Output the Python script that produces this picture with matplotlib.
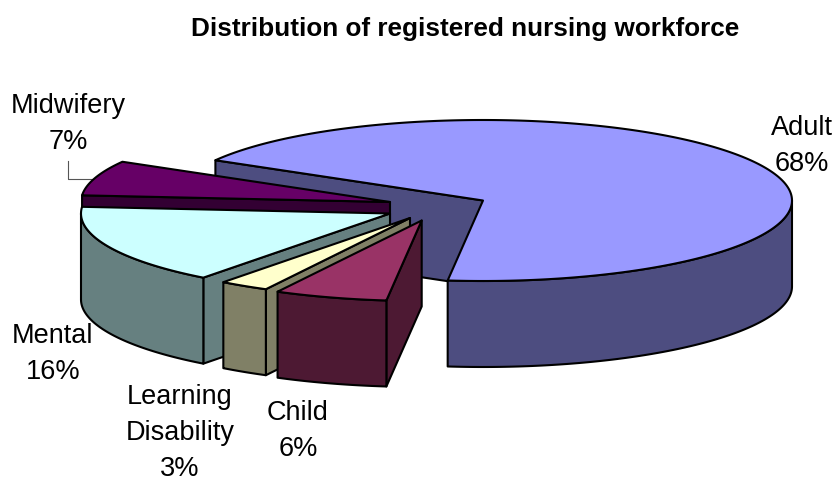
import numpy as np
import matplotlib
matplotlib.use("Agg")
import matplotlib.pyplot as plt
from matplotlib.patches import Polygon

plt.rcParams['font.family'] = ['Liberation Sans', 'DejaVu Sans']

# ---- data ----
categories = ["Adult", "Child", "Learning\nDisability", "Mental", "Midwifery"]
shares = [68.49, 5.9, 2.6, 16.0, 7.01]
title = "Distribution of registered nursing workforce"

# ---- styles / layout (pixel-based canvas) ----
top_colors = ["#9999FF", "#993366", "#FFFFCC", "#CCFFFF", "#660066"]
side_colors = ["#4D4D80", "#4D1933", "#808066", "#668080", "#330033"]
apex = [(483, 201.5), (421.7, 221.5), (410, 219), (390, 214.5), (390, 203)]
label_pos = [(802, 146), (298, 431), (180, 433), (53, 354), (68, 124)]
draw_order = [0, 4, 3, 2, 1]
RX, RY, DEPTH = 309, 80.5, 86
START = 150.0
LW = 1.5

fig = plt.figure(figsize=(8.35, 4.81), dpi=100, facecolor="white")
ax = fig.add_axes([0, 0, 1, 1])
ax.set_xlim(0, 835)
ax.set_ylim(481, 0)
ax.axis("off")

total = sum(shares)
edges = START - np.cumsum([0] + shares) * 360.0 / total


def rim(center, a):
    a = np.radians(a)
    return np.column_stack([center[0] + RX * np.cos(a), center[1] - RY * np.sin(a)])


def face(pts, color, z):
    ax.add_patch(Polygon(pts, closed=True, facecolor=color, edgecolor="black",
                         linewidth=LW, joinstyle="round", zorder=z))


z = 1
for i in draw_order:
    hi, lo = edges[i], edges[i + 1]
    c = np.array(apex[i], float)
    down = np.array([0, DEPTH])
    # radial cut walls that face the viewer
    for ang, visible in ((hi, np.cos(np.radians(hi)) < 0), (lo, np.cos(np.radians(lo)) > 0)):
        if visible:
            p = rim(c, ang)[0]
            face([c, p, p + down, c + down], side_colors[i], z)
            z += 1
    # outer wall: front part of the rim only
    angs = np.linspace(lo, hi, 300)
    front = angs[np.sin(np.radians(angs)) <= 0]
    if len(front) > 1:
        arc = rim(c, front)
        face(np.vstack([arc, (arc + down)[::-1]]), side_colors[i], z)
        z += 1
    # top face
    face(np.vstack([[c], rim(c, angs)]), top_colors[i], z)
    z += 1

for name, share, (x, y) in zip(categories, shares, label_pos):
    ax.text(x, y, f"{name}\n{round(share)}%", ha="center", va="center",
            fontsize=19.5, color="black", linespacing=1.5, zorder=50)

# leader line for Midwifery
ax.plot([68, 68, 92], [162, 179.5, 179.5], color="#555555", lw=0.8, zorder=0.5)

ax.text(465, 29, title, ha="center", va="center", fontsize=18.8,
        fontweight="bold", color="black", zorder=50)

fig.savefig("out.png", dpi=100, facecolor="white")
